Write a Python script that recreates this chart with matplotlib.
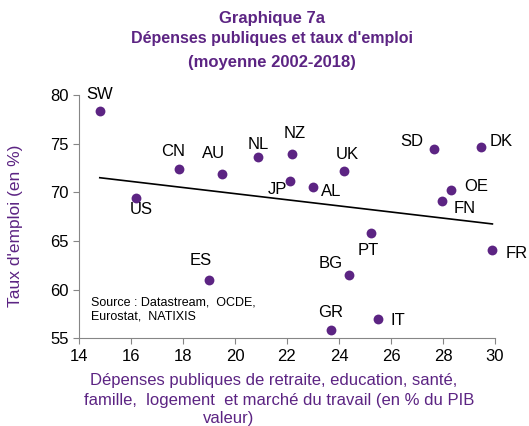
import matplotlib.pyplot as plt

plt.rcParams['font.family'] = ['Liberation Sans', 'DejaVu Sans']

# --- données ---
pays = ['SW', 'CN', 'AU', 'NL', 'NZ', 'JP', 'US', 'UK', 'AL', 'SD',
        'DK', 'OE', 'FN', 'PT', 'FR', 'ES', 'BG', 'GR', 'IT']
depenses = [14.8, 17.85, 19.5, 20.9, 22.2, 22.1, 16.2, 24.2, 23.0, 27.65,
            29.45, 28.3, 27.95, 25.25, 29.9, 19.0, 24.4, 23.7, 25.5]
taux_emploi = [78.4, 72.4, 71.9, 73.6, 73.9, 71.2, 69.45, 72.2, 70.5, 74.4,
               74.7, 70.2, 69.15, 65.8, 64.1, 61.0, 61.55, 55.85, 57.0]

# droite de tendance (extrémités)
tendance_x = [14.8, 29.9]
tendance_y = [71.5, 66.75]

# décalage des étiquettes (en pixels)
decalage = {'SW': (0, 16), 'CN': (-6, 17), 'AU': (-8, 20), 'NL': (0, 13),
            'NZ': (3, 21), 'JP': (-12, -9), 'US': (5, -12), 'UK': (3, 16),
            'AL': (18, -4), 'SD': (-22, 8), 'DK': (21, 5), 'OE': (25, 4),
            'FN': (23, -8), 'PT': (-3, -17), 'FR': (24, -4), 'ES': (-8, 19),
            'BG': (-19, 11), 'GR': (-1, 18), 'IT': (20, -2)}

violet = '#5c2483'
gris = '#868686'

fig = plt.figure(figsize=(5.29, 4.26), dpi=100)
ax = fig.add_axes([0.1493, 0.2059, 0.7864, 0.5711])

ax.plot(tendance_x, tendance_y, color='black', lw=1.2, zorder=2)
ax.scatter(depenses, taux_emploi, s=50, color=violet, zorder=3, linewidths=0,
           clip_on=False)

for p, xv, yv in zip(pays, depenses, taux_emploi):
    dx, dy = decalage[p]
    ax.annotate(p, (xv, yv), xytext=(dx * 0.72, dy * 0.72),
                textcoords='offset points', ha='center', va='center',
                fontsize=12, color='black')

ax.set_xlim(14, 30)
ax.set_ylim(55, 80)
ax.set_xticks(range(14, 31, 2))
ax.set_yticks(range(55, 81, 5))
ax.tick_params(labelsize=12, color=gris, length=4, direction='out')
for s in ['top', 'right']:
    ax.spines[s].set_visible(False)
for s in ['left', 'bottom']:
    ax.spines[s].set_color(gris)

ax.text(0.029, 0.118, 'Source : Datastream,  OCDE,\nEurostat,  NATIXIS',
        transform=ax.transAxes, fontsize=9, va='center', ha='left',
        linespacing=1.2)

# titre
fig.text(0.514, 1 - 19 / 426, 'Graphique 7a', ha='center', va='center',
         fontsize=12, fontweight='bold', color=violet)
fig.text(0.514, 1 - 39 / 426, "Dépenses publiques et taux d'emploi",
         ha='center', va='center', fontsize=11.5, fontweight='bold', color=violet)
fig.text(0.514, 1 - 62 / 426, '(moyenne 2002-2018)', ha='center',
         va='center', fontsize=12, fontweight='bold', color=violet)

# titres des axes
fig.text(0.03, 1 - 226 / 426, "Taux d'emploi (en %)", rotation=90,
         ha='center', va='center', fontsize=12.5, color=violet)
fig.text(274 / 529, 1 - 380 / 426,
         'Dépenses publiques de retraite, education, santé,',
         ha='center', va='center', fontsize=12, color=violet)
fig.text(279 / 529, 1 - 400 / 426,
         'famille,  logement  et marché du travail (en % du PIB',
         ha='center', va='center', fontsize=12, color=violet)
fig.text(229 / 529, 1 - 419 / 426, 'valeur)', ha='center', va='center',
         fontsize=12, color=violet)

fig.savefig('out.png', dpi=100)
